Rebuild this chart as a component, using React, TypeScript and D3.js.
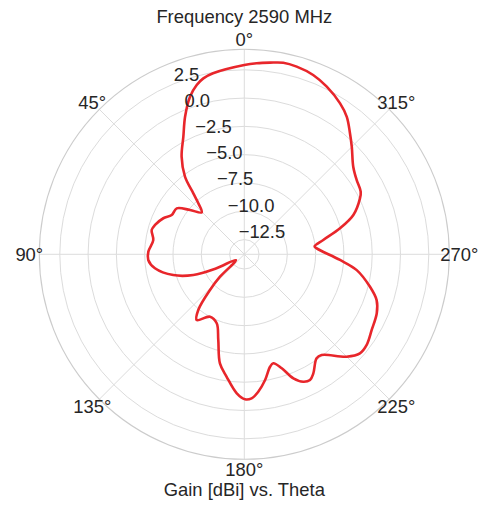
import React from "react";
import * as d3 from "d3";

const thetaDeg = [0, 9.8, 13.1, 15.7, 19.0, 23.3, 27.4, 32.7, 37.4, 39.9, 42.0, 45.4, 50.8, 55.8, 61.6, 66.0, 71.8, 75.3, 81.1, 88.4, 93.4, 98.9, 106.3, 112.1, 116.5, 124.5, 132.7, 136.1, 140.4, 144.1, 151.2, 158.2, 163.1, 167.4, 171.8, 176.9, 180.3, 182.9, 185.8, 189.4, 192.9, 194.9, 198.2, 201.6, 204.8, 207.6, 210.1, 214.8, 217.5, 225.0, 229.4, 233.5, 239.3, 246.0, 250.9, 255.5, 262.0, 266.6, 274.7, 276.5, 280.3, 285.2, 289.8, 295.8, 298.3, 303.5, 308.8, 315.0, 318.9, 323.3, 327.6, 333.8, 339.0, 344.4, 348.5, 352.4, 356.3];
const gainDbi = [2.92, 2.43, 2.16, 1.74, 0.93, -0.57, -2.1, -3.55, -5.17, -6.78, -7.73, -8.52, -7.61, -6.58, -6.51, -5.97, -5.5, -5.34, -5.66, -5.32, -5.3, -5.81, -7.26, -8.94, -11.0, -12.9, -10.88, -9.43, -7.42, -6.63, -7.51, -7.24, -5.89, -3.93, -2.87, -1.5, -0.99, -1.06, -1.6, -2.55, -3.61, -3.84, -3.2, -2.02, -1.4, -1.27, -1.64, -2.61, -2.58, -1.01, -0.35, -0.35, -0.71, -0.99, -1.43, -2.33, -3.77, -5.33, -7.38, -7.55, -6.71, -5.04, -3.56, -2.45, -2.12, -1.9, -1.45, -0.37, 0.4, 1.35, 1.99, 2.7, 3.17, 3.41, 3.47, 3.28, 3.11];
const radialTicks = [-12.5, -10, -7.5, -5, -2.5, 0, 2.5];
const angleTicks = [0, 45, 90, 135, 180, 225, 270, 315];
const rMin = -13.8;
const rMax = 4.31;
const title = "Frequency 2590 MHz";
const xLabel = "Gain [dBi] vs. Theta";

export default function App() {
  const W = 492, H = 505;
  const cx = 244.3, cy = 254.3, R = 205;
  const font = "'Liberation Sans', Arial, sans-serif";
  const fs = 18.4;
  const txt = "#262626";
  const r = d3.scaleLinear().domain([rMin, rMax]).range([0, R]);
  const toRad = (d: number) => (d * Math.PI) / 180;
  const pt = (deg: number, rad: number): [number, number] => [
    cx - rad * Math.sin(toRad(deg)),
    cy - rad * Math.cos(toRad(deg)),
  ];
  const data = thetaDeg.map((t, i) => ({ t, g: gainDbi[i] }));
  const line = d3
    .lineRadial<{ t: number; g: number }>()
    .angle((d) => -toRad(d.t))
    .radius((d) => r(d.g))
    .curve(d3.curveCatmullRomClosed.alpha(0.5));
  const labelR = 215;
  return (
    <svg width={W} height={H} style={{ position: "absolute", left: 0, top: 0 }} fontFamily={font}>
      <rect x={0} y={0} width={W} height={H} fill="#ffffff" />
      {radialTicks.map((v) => (
        <circle key={v} cx={cx} cy={cy} r={r(v)} fill="none" stroke="#dcdcdc" strokeWidth={1} />
      ))}
      {angleTicks.map((a) => {
        const [x, y] = pt(a, R);
        return <line key={a} x1={cx} y1={cy} x2={x} y2={y} stroke="#dcdcdc" strokeWidth={1} />;
      })}
      <circle cx={cx} cy={cy} r={R} fill="none" stroke="#cccccc" strokeWidth={1.1} />
      <path d={line(data) || ""} transform={`translate(${cx},${cy})`} fill="none" stroke="#e8262b" strokeWidth={2.6} strokeLinejoin="round" />
      {radialTicks.map((v) => {
        const [x, y] = pt(22.5, r(v));
        return (
          <text key={v} x={x} y={y - 3} fontSize={fs} fill={txt} textAnchor="start">
            {v.toFixed(1).replace("-", "\u2212")}
          </text>
        );
      })}
      {angleTicks.map((a) => {
        const [x, y] = pt(a, labelR);
        return (
          <text key={a} x={x} y={y} fontSize={fs} fill={txt} textAnchor="middle" dominantBaseline="central">
            {a + "\u00b0"}
          </text>
        );
      })}
      <text x={cx} y={23} fontSize={fs} fill={txt} textAnchor="middle">{title}</text>
      <text x={cx} y={496} fontSize={fs} fill={txt} textAnchor="middle">{xLabel}</text>
    </svg>
  );
}
